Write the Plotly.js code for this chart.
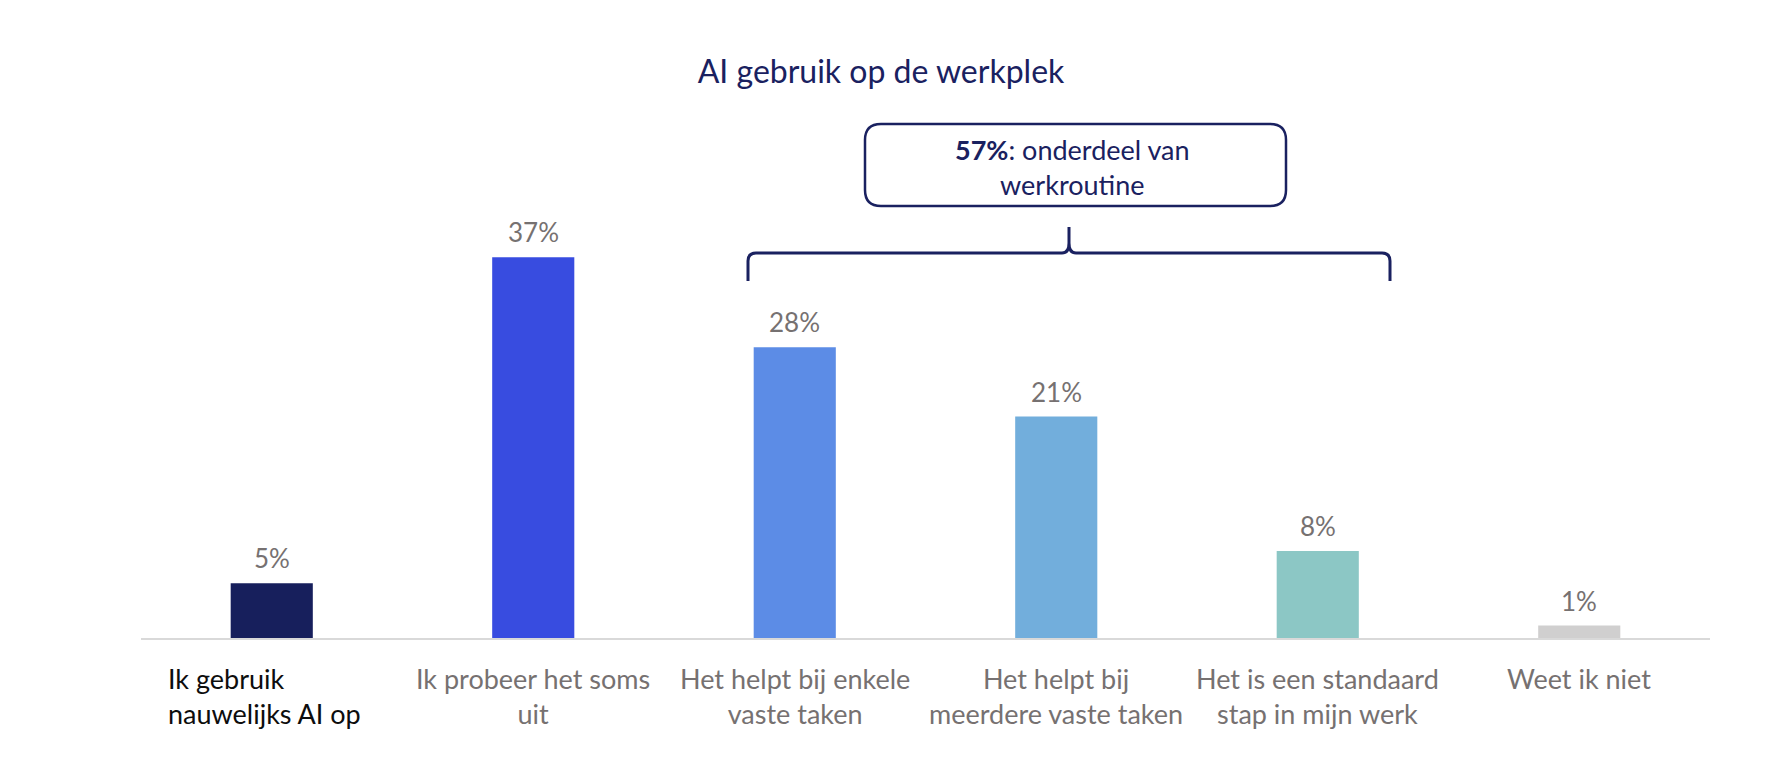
<!DOCTYPE html>
<html>
<head>
<meta charset="utf-8">
<script src="https://cdn.plot.ly/plotly-3.0.1.min.js"></script>
<style>
  html, body { margin: 0; padding: 0; background: #ffffff; }
  #myDiv { width: 1788px; height: 766px; }
</style>
</head>
<body>
<div id="myDiv"></div>
<script>
// data
var categories = [
  'Ik gebruik nauwelijks AI op',
  'Ik probeer het soms uit',
  'Het helpt bij enkele vaste taken',
  'Het helpt bij meerdere vaste taken',
  'Het is een standaard stap in mijn werk',
  'Weet ik niet'
];
var tickLabels = [
  'Ik gebruik<br>nauwelijks AI op',
  'Ik probeer het soms<br>uit',
  'Het helpt bij enkele<br>vaste taken',
  'Het helpt bij<br>meerdere vaste taken',
  'Het is een standaard<br>stap in mijn werk',
  'Weet ik niet'
];
var values = [5.3, 36.8, 28.1, 21.4, 8.4, 1.2];
var barColors = ['#171f5c', '#384ce0', '#5c8ce6', '#72aedc', '#8cc7c5', '#d0cfcf'];
var routineShare = 57;

var NAVY = '#1a2160';
var GREY = '#767171';
var FONT = 'Lato, sans-serif';

// plot box in pixels (for the callout decoration)
var L = 141, R = 78, T = 100, B = 128, W = 1788, H = 766;
var plotW = W - L - R, plotH = H - T - B;
function px(x) { return (x - L) / plotW; }
function py(y) { return (H - B - y) / plotH; }

function roundRect(x0, y0, x1, y1, r) {
  return 'M' + px(x0 + r) + ',' + py(y0) +
    ' L' + px(x1 - r) + ',' + py(y0) +
    ' Q' + px(x1) + ',' + py(y0) + ' ' + px(x1) + ',' + py(y0 + r) +
    ' L' + px(x1) + ',' + py(y1 - r) +
    ' Q' + px(x1) + ',' + py(y1) + ' ' + px(x1 - r) + ',' + py(y1) +
    ' L' + px(x0 + r) + ',' + py(y1) +
    ' Q' + px(x0) + ',' + py(y1) + ' ' + px(x0) + ',' + py(y1 - r) +
    ' L' + px(x0) + ',' + py(y0 + r) +
    ' Q' + px(x0) + ',' + py(y0) + ' ' + px(x0 + r) + ',' + py(y0) + ' Z';
}

function brace(x0, xm, x1, yl, yb, yt) {
  var r = 8, k = 7;
  return 'M' + px(x0) + ',' + py(yb) +
    ' L' + px(x0) + ',' + py(yl + r) +
    ' Q' + px(x0) + ',' + py(yl) + ' ' + px(x0 + r) + ',' + py(yl) +
    ' L' + px(xm - k) + ',' + py(yl) +
    ' Q' + px(xm) + ',' + py(yl) + ' ' + px(xm) + ',' + py(yl - k - 3) +
    ' L' + px(xm) + ',' + py(yt) +
    ' M' + px(xm) + ',' + py(yl - k - 3) +
    ' Q' + px(xm) + ',' + py(yl) + ' ' + px(xm + k) + ',' + py(yl) +
    ' L' + px(x1 - r) + ',' + py(yl) +
    ' Q' + px(x1) + ',' + py(yl) + ' ' + px(x1) + ',' + py(yl + r) +
    ' L' + px(x1) + ',' + py(yb);
}

var trace = {
  type: 'bar',
  x: categories,
  y: values,
  marker: { color: barColors },
  hoverinfo: 'x+y',
  cliponaxis: false
};

var annotations = [];
// value labels
for (var i = 0; i < categories.length; i++) {
  annotations.push({
    x: categories[i], y: values[i], xref: 'x', yref: 'y',
    text: Math.round(values[i]) + '%',
    showarrow: false, yanchor: 'middle', yshift: 25,
    font: { family: FONT, size: 26, color: GREY }
  });
}
// category labels
for (var j = 0; j < categories.length; j++) {
  var first = j === 0;
  annotations.push({
    x: categories[j], y: 0, xref: 'x', yref: 'paper',
    text: tickLabels[j],
    showarrow: false, yanchor: 'top', yshift: -22,
    xanchor: first ? 'left' : 'center',
    xshift: first ? -106 : 0,
    align: first ? 'left' : 'center',
    font: { family: FONT, size: 27, color: first ? '#0d0d0d' : GREY }
  });
}
// callout text
annotations.push({
  xref: 'paper', yref: 'paper', x: px(1072), y: py(167),
  text: '<b>' + routineShare + '%</b>: onderdeel van<br>werkroutine',
  showarrow: false, xanchor: 'center', yanchor: 'middle',
  font: { family: FONT, size: 27, color: NAVY }
});

var layout = {
  width: W,
  height: H,
  margin: { l: L, r: R, t: T, b: B, pad: 0 },
  paper_bgcolor: '#ffffff',
  plot_bgcolor: '#ffffff',
  title: {
    text: 'AI gebruik op de werkplek',
    x: 881 / W, xref: 'container', xanchor: 'center',
    y: 1 - 72 / H, yref: 'container', yanchor: 'middle',
    font: { family: FONT, size: 32, color: NAVY }
  },
  showlegend: false,
  bargap: 0.686,
  xaxis: {
    type: 'category',
    range: [-0.5, 5.5],
    showticklabels: false,
    ticks: '',
    showgrid: false,
    zeroline: false,
    showline: true,
    linecolor: '#d9d9d9',
    linewidth: 2,
    fixedrange: true
  },
  yaxis: {
    range: [0, 52],
    visible: false,
    showgrid: false,
    zeroline: false,
    fixedrange: true
  },
  shapes: [
    {
      type: 'path', xref: 'paper', yref: 'paper',
      path: roundRect(865, 124, 1286, 206, 16),
      line: { color: NAVY, width: 2.5 },
      fillcolor: 'rgba(0,0,0,0)'
    },
    {
      type: 'path', xref: 'paper', yref: 'paper',
      path: brace(748, 1069, 1390, 253, 281, 227),
      line: { color: NAVY, width: 3 },
      fillcolor: 'rgba(0,0,0,0)'
    }
  ],
  annotations: annotations
};

var config = { displayModeBar: false, responsive: false };

Plotly.newPlot('myDiv', [trace], layout, config);
</script>
</body>
</html>
